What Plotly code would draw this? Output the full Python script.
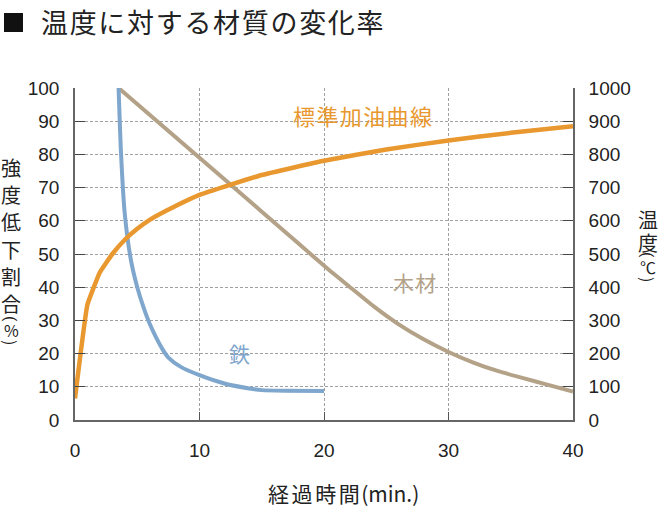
import plotly.graph_objects as go

# 標準加油曲線 (temperature, °C, right axis)
heat_t = [0, 1, 2, 3, 4, 5, 6, 8, 10, 15, 20, 25, 30, 35, 40]
heat_temp = [65, 348, 445, 500, 543, 576, 603, 643, 678, 738, 781, 815, 842, 865, 885]

# 鉄 (strength reduction %, left axis)
iron_t = [3.5, 3.7, 4.0, 4.5, 5.0, 5.5, 6.0, 7.0, 7.5, 8.5, 10, 12, 14, 15, 17, 20]
iron_pct = [100, 80, 62, 48, 40, 34, 29, 21.5, 18.8, 16, 13.5, 11, 9.5, 9, 8.8, 8.7]

# 木材 (left axis)
wood_t = [3.5, 12, 18, 20.5, 22, 24, 26, 28, 30, 32, 34, 36, 38, 40]
wood_pct = [100, 72.5, 53, 44.9, 40.3, 34.2, 28.8, 24.3, 20.5, 17.3, 14.7, 12.6, 10.6, 8.6]

x_ticks = [0, 10, 20, 30, 40]
left_ticks = list(range(0, 101, 10))
right_ticks = list(range(0, 1001, 100))

title_text = "温度に対する材質の変化率"
x_title_jp = "経過時間"
x_title_unit = "(min.)"
left_title = ["強", "度", "低", "下", "割", "合"]
left_unit = "%"
right_title = ["温", "度"]
right_unit = "℃"
label_heat = "標準加油曲線"
label_wood = "木材"
label_iron = "鉄"

ORANGE = "#E8982E"
BLUE = "#7FA6CC"
BROWN = "#B3A288"
FONT = "Liberation Sans, Arial, sans-serif"
CJK = "Noto Sans CJK JP"
HS = "\u200a"  # hair space for letter spacing


def spaced(s, n=1):
    return (HS * n).join(list(s))


L, R, T, B = 75, 87, 88, 88
PW, PH = 660 - L - R, 508 - T - B


def px(xp):
    return (xp - L) / PW


def py(yp):
    return (508 - B - yp) / PH


fig = go.Figure()
fig.add_trace(go.Scatter(x=wood_t, y=wood_pct, mode="lines",
                         line=dict(color=BROWN, width=4, shape="spline", smoothing=0.3),
                         yaxis="y", hoverinfo="skip"))
fig.add_trace(go.Scatter(x=heat_t, y=heat_temp, mode="lines",
                         line=dict(color=ORANGE, width=4.5, shape="spline", smoothing=0.3),
                         yaxis="y2", hoverinfo="skip"))
fig.add_trace(go.Scatter(x=iron_t, y=iron_pct, mode="lines",
                         line=dict(color=BLUE, width=4, shape="spline", smoothing=0.6),
                         yaxis="y", hoverinfo="skip"))

tickfont = dict(size=19, family=FONT, color="#222")
fig.update_layout(
    width=660, height=508,
    margin=dict(l=L, r=R, t=T, b=B),
    paper_bgcolor="white", plot_bgcolor="white",
    showlegend=False,
    font=dict(family=FONT, color="#222", size=17),
    xaxis=dict(range=[0, 40], tickvals=x_ticks, showgrid=True, gridcolor="#a0a0a0",
               griddash="3px,2px", gridwidth=1, zeroline=False,
               showline=True, linecolor="#666", linewidth=1.6,
               ticks="inside", ticklen=8, tickcolor="#555",
               ticklabelstandoff=12, tickfont=tickfont),
    yaxis=dict(range=[0, 100], tickvals=left_ticks, showgrid=True, gridcolor="#a0a0a0",
               griddash="3px,2px", gridwidth=1, zeroline=False,
               showline=True, linecolor="#666", linewidth=1.6,
               ticks="inside", ticklen=10, tickcolor="#444",
               ticklabelstandoff=10, tickfont=tickfont),
    yaxis2=dict(range=[0, 1000], tickvals=right_ticks, overlaying="y", side="right",
                showgrid=False, zeroline=False,
                showline=True, linecolor="#666", linewidth=1.6,
                ticks="inside", ticklen=10, tickcolor="#444",
                ticklabelstandoff=10, tickfont=tickfont),
)

# Title
fig.add_shape(type="rect", xref="paper", yref="paper",
              x0=px(4), x1=px(23), y0=py(32), y1=py(13),
              fillcolor="#111", line=dict(width=0))
fig.add_annotation(text=spaced(title_text), xref="paper", yref="paper",
                   x=px(39), y=py(22), xanchor="left", yanchor="middle",
                   showarrow=False, font=dict(family=CJK, size=27, color="#222"))

# X axis title
fig.add_annotation(text=spaced(x_title_jp, 2) + HS + x_title_unit, xref="paper", yref="paper",
                   x=px(343), y=py(493), xanchor="center", yanchor="middle",
                   showarrow=False, font=dict(family=CJK, size=21, color="#222"))


def vertical_title(chars, unit, xc, ys, yparen):
    for ch, yy in zip(chars, ys):
        fig.add_annotation(text=ch, xref="paper", yref="paper", x=px(xc), y=py(yy),
                           xanchor="center", yanchor="middle", showarrow=False,
                           font=dict(family=CJK, size=20, color="#222"))
    y_open, y_unit, y_close = yparen
    fig.add_annotation(text="(", textangle=90, xref="paper", yref="paper",
                       x=px(xc), y=py(y_open), xanchor="center", yanchor="middle",
                       showarrow=False, font=dict(family=FONT, size=16, color="#222"))
    fig.add_annotation(text=unit, xref="paper", yref="paper",
                       x=px(xc), y=py(y_unit), xanchor="center", yanchor="middle",
                       showarrow=False, font=dict(family=CJK, size=16, color="#222"))
    fig.add_annotation(text=")", textangle=90, xref="paper", yref="paper",
                       x=px(xc), y=py(y_close), xanchor="center", yanchor="middle",
                       showarrow=False, font=dict(family=CJK, size=16, color="#222"))


vertical_title(left_title, left_unit, 11, [167, 194, 221, 249, 276, 303], (319, 330, 342))
vertical_title(right_title, right_unit, 648, [219, 242], (255, 267, 279))

# Series labels
fig.add_annotation(text=spaced(label_heat), x=23.1, y=91.8, xref="x", yref="y",
                   showarrow=False, font=dict(family=CJK, size=22, color=ORANGE))
fig.add_annotation(text=spaced(label_wood), x=27.27, y=41.7, xref="x", yref="y",
                   showarrow=False, font=dict(family=CJK, size=21, color=BROWN))
fig.add_annotation(text=label_iron, x=13.25, y=20.3, xref="x", yref="y",
                   showarrow=False, font=dict(family=CJK, size=21, color=BLUE))

fig.write_html("out.html")
